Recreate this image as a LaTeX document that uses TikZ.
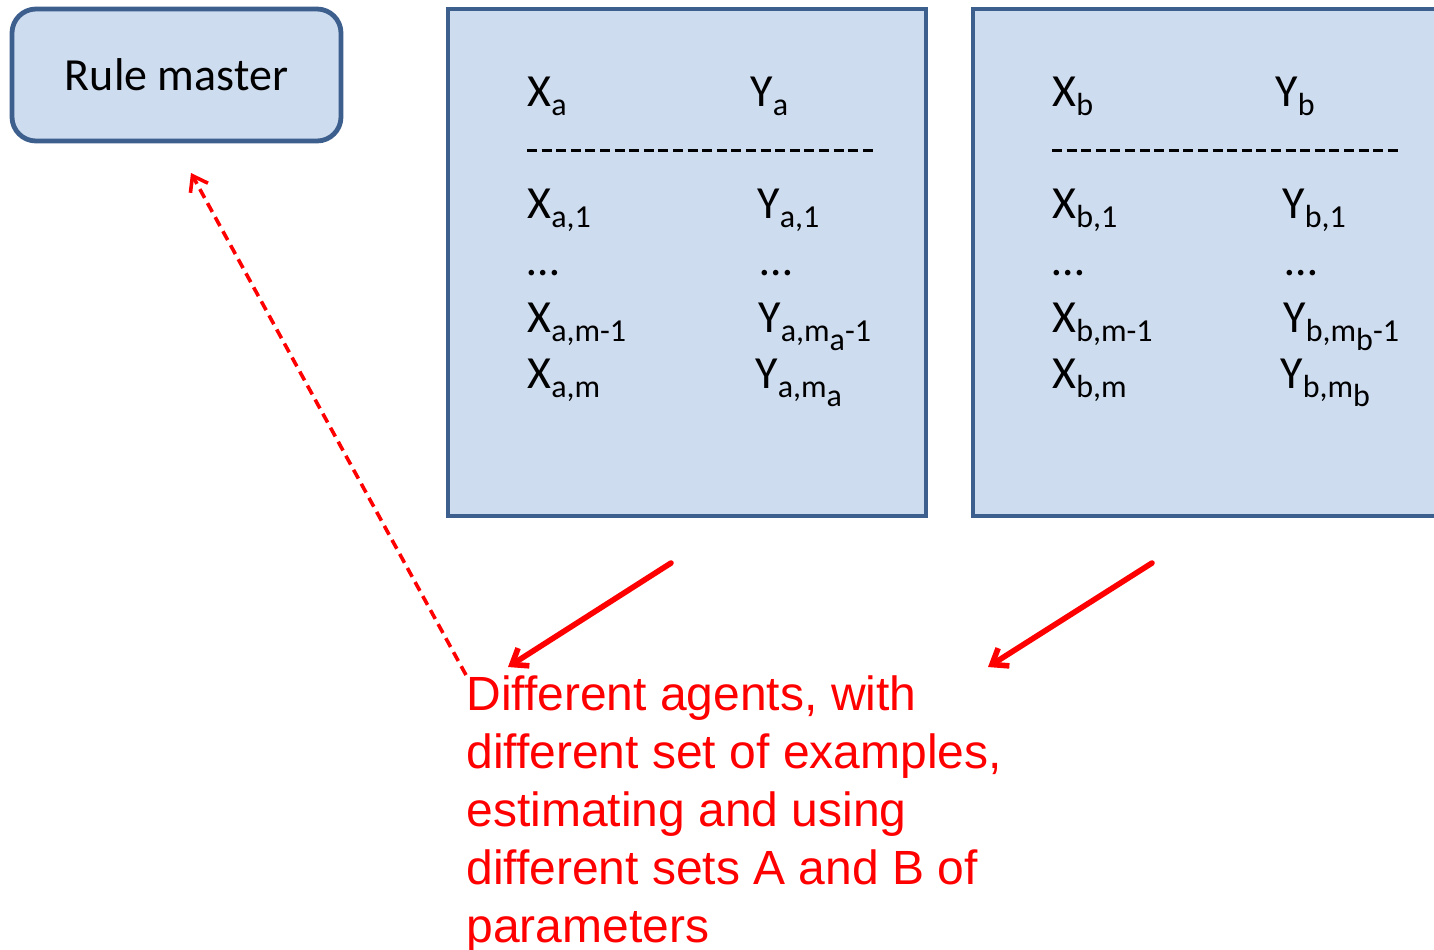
\documentclass[tikz,border=0pt]{standalone}
\usepackage{fontspec}
\setmainfont{Carlito}
\newfontfamily\notefont{Liberation Sans}
\usepackage{tikz}
\usetikzlibrary{arrows.meta, positioning}
\definecolor{agentblue}{HTML}{3D5F8E}
\definecolor{agentfill}{HTML}{CEDCEF}
\definecolor{notered}{HTML}{FF0000}
\newcommand{\sbs}[1]{\raisebox{-4.5pt}{\fontsize{16}{16}\selectfont#1}}

\begin{document}
\begin{tikzpicture}[
    x=0.5pt, y=-0.5pt,
    master/.style={rectangle, draw=agentblue, fill=agentfill, line width=2.4pt, rounded corners=12pt, minimum width=164.5pt, minimum height=66pt, font=\fontsize{23}{28}\selectfont},
    agent/.style={rectangle, draw=agentblue, fill=agentfill, line width=2.2pt, minimum height=253.5pt},
    entry/.style={anchor=base west, inner sep=0pt, font=\fontsize{23}{28}\selectfont},
    sepline/.style={line width=1.5pt, dash pattern=on 5pt off 2.3pt},
    note/.style={anchor=north west, align=left, inner sep=0pt, text=notered, font=\notefont\fontsize{24}{29}\selectfont},
    arrow/.style={-{Straight Barb[length=7pt, width=10.5pt]}, line width=2.8pt, notered, line cap=round},
    backarrow/.style={-{Straight Barb[length=7pt, width=10pt]}, line width=1.8pt, notered, dash pattern=on 5pt off 3pt}
]
\path[use as bounding box, clip] (0,0) rectangle (1434,949);

\node[master] (master) at (176.5,75) {Rule master};
\node[agent, minimum width=239pt] (boxa) at (687,262.5) {};
\node[agent, minimum width=247pt] (boxb) at (1220,262.5) {};

\foreach \s/\dx in {a/0, b/525} {
  \node[entry] (x-\s) at (527+\dx,106) {X\sbs{\s}};
  \node[entry] (y-\s) at (750+\dx,106) {Y\sbs{\s}};
  \draw[sepline] (527+\dx,150) -- (877+\dx,150);
  \node[entry] (x1-\s) at (527+\dx,218) {X\sbs{\s,1}};
  \node[entry] (y1-\s) at (757+\dx,218) {Y\sbs{\s,1}};
  \node[entry] (xd-\s) at (527+\dx,275) {…};
  \node[entry] (yd-\s) at (760+\dx,275) {…};
  \node[entry] (xm1-\s) at (527+\dx,332) {X\sbs{\s,m-1}};
  \node[entry] (ym1-\s) at (758+\dx,332) {Y\sbs{\s,m\sbs{\s}-1}};
  \node[entry] (xm-\s) at (527+\dx,388) {X\sbs{\s,m}};
  \node[entry] (ym-\s) at (755+\dx,388) {Y\sbs{\s,m\sbs{\s}}};
}

\node[note] (note) at (466,675) {Different agents, with\\different set of examples,\\estimating and using\\different sets A and B of\\parameters};

\coordinate (outa) at (671,563);
\coordinate (ina) at (508,667);
\coordinate (outb) at (1152,563);
\coordinate (inb) at (988,667);
\coordinate (tomaster) at (191,173);

\draw[arrow] (outa) -- (ina);
\draw[arrow] (outb) -- (inb);
\draw[backarrow] (note.north west) -- (tomaster);
\end{tikzpicture}
\end{document}
